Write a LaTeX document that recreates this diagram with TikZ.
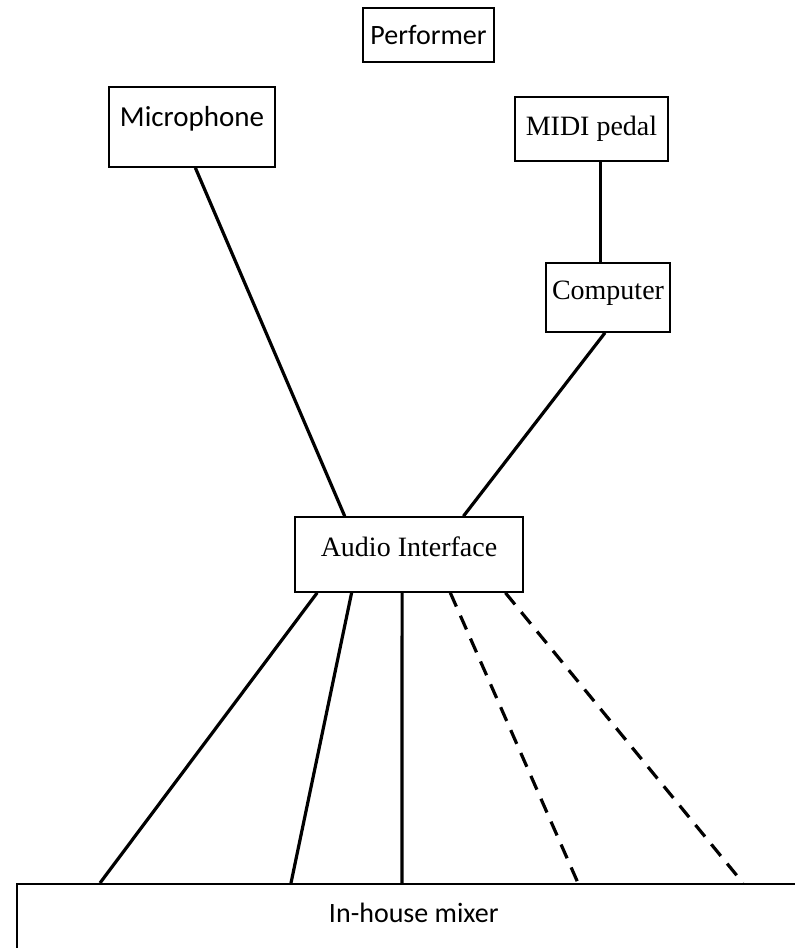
\documentclass[tikz,border=0pt]{standalone}
\usepackage{fontspec}
\setmainfont{Liberation Serif}
\setsansfont{Carlito}
\usepackage{tikz}
\usetikzlibrary{positioning,calc}

\begin{document}
\begin{tikzpicture}[x=1pt, y=-1pt, font=\fontsize{28}{32}\selectfont]
\tikzstyle{box}=[
    draw, line width=1.6pt,
    align=center, inner sep=0pt
]
\tikzstyle{cable}=[line width=3.2pt]
\tikzstyle{dashcable}=[line width=3.2pt, dash pattern=on 15pt off 10pt]

\useasboundingbox (0,0) rectangle (795,948);

% sans boxes
\node[box, font=\fontsize{28}{32}\sffamily, minimum width=131pt, minimum height=54pt] (perf) at (428.5,35) {Performer};
\node[box, font=\fontsize{29}{32}\sffamily, minimum width=166pt, minimum height=80pt,
      text height=20pt, text depth=22pt] (mic) at (192,127) {Microphone};
\node[box, font=\fontsize{28}{32}\sffamily, minimum width=794pt, minimum height=110pt, anchor=north west,
      text height=20pt, text depth=52pt] (mix) at (16,883) {In-house mixer};

% serif boxes
\node[box, minimum width=153pt, minimum height=64pt] (pedal) at (591.5,129) {MIDI pedal};
\node[box, minimum width=124pt, minimum height=69pt, text height=19pt, text depth=15pt] (comp) at (608,297.5) {Computer};
\node[box, minimum width=228pt, minimum height=75pt, text height=19pt, text depth=15pt] (ai) at (409,554.5) {Audio Interface};

\draw[cable] ($(mic.south west)!0.52!(mic.south east)$) -- ($(ai.north west)!0.22!(ai.north east)$);
\coordinate (pd) at ($(pedal.south west)!0.556!(pedal.south east)$);
\draw[cable] (pd) -- (pd |- comp.north);
\draw[cable] ($(comp.south west)!0.476!(comp.south east)$) -- ($(ai.north west)!0.737!(ai.north east)$);

\foreach \f/\e/\s in {0.10/84/cable, 0.25/275/cable, 0.47/386/cable, 0.68/562/dashcable, 0.92/727/dashcable}
    \draw[\s] ($(ai.south west)!\f!(ai.south east)$) -- ($(mix.north west)+(\e,0)$);
\end{tikzpicture}
\end{document}
